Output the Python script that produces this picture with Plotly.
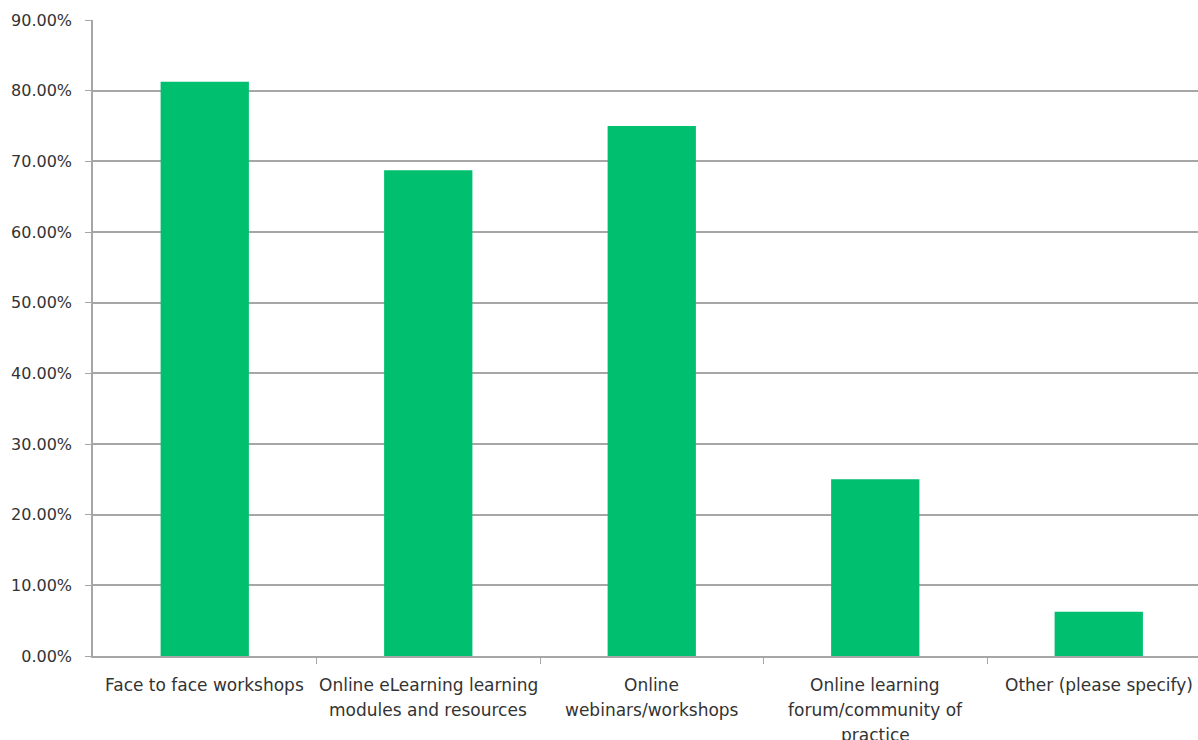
import plotly.graph_objects as go

# Survey: preferred formats for professional learning
categories = [
    "Face to face workshops",
    "Online eLearning learning modules and resources",
    "Online webinars/workshops",
    "Online learning forum/community of practice",
    "Other (please specify)",
]
label_lines = [
    ["Face to face workshops"],
    ["Online eLearning learning", "modules and resources"],
    ["Online", "webinars/workshops"],
    ["Online learning", "forum/community of", "practice"],
    ["Other (please specify)"],
]
share = [0.8125, 0.6875, 0.75, 0.25, 0.0625]

FONT = "DejaVu Sans"
TEXT = "#333333"
GRID = "#a6a6a6"

fig = go.Figure(
    go.Bar(
        x=list(range(len(categories))),
        y=share,
        width=0.395,
        marker=dict(color="#00bf6f", line=dict(width=0)),
        hovertext=categories,
    )
)

# Category labels, one annotation per wrapped line for Excel-like spacing
annotations = []
for i, lines in enumerate(label_lines):
    for j, line in enumerate(lines):
        annotations.append(
            dict(
                x=i, y=0, xref="x", yref="paper",
                text=line, showarrow=False,
                xanchor="center", yanchor="middle",
                yshift=-29 - 25 * j,
                font=dict(family=FONT, size=17, color=TEXT),
            )
        )

fig.update_layout(
    width=1198,
    height=740,
    margin=dict(l=93, r=0, t=20, b=84),
    paper_bgcolor="white",
    plot_bgcolor="white",
    showlegend=False,
    annotations=annotations,
    xaxis=dict(
        range=[-0.5, 4.444],
        tickmode="array",
        tickvals=[0.5, 1.5, 2.5, 3.5],
        ticktext=["", "", "", ""],
        ticks="outside",
        ticklen=6,
        tickcolor=GRID,
        showgrid=False,
        zeroline=False,
        showline=True,
        linecolor=GRID,
        linewidth=1.5,
    ),
    yaxis=dict(
        range=[0, 0.9],
        dtick=0.1,
        tickformat=".2%",
        ticks="outside",
        ticklen=6,
        tickcolor=GRID,
        ticklabelstandoff=10,
        showgrid=True,
        gridcolor=GRID,
        gridwidth=1.5,
        zeroline=False,
        showline=True,
        linecolor=GRID,
        linewidth=1.5,
        tickfont=dict(family=FONT, size=16, color=TEXT),
    ),
)

fig.write_html("out.html")
